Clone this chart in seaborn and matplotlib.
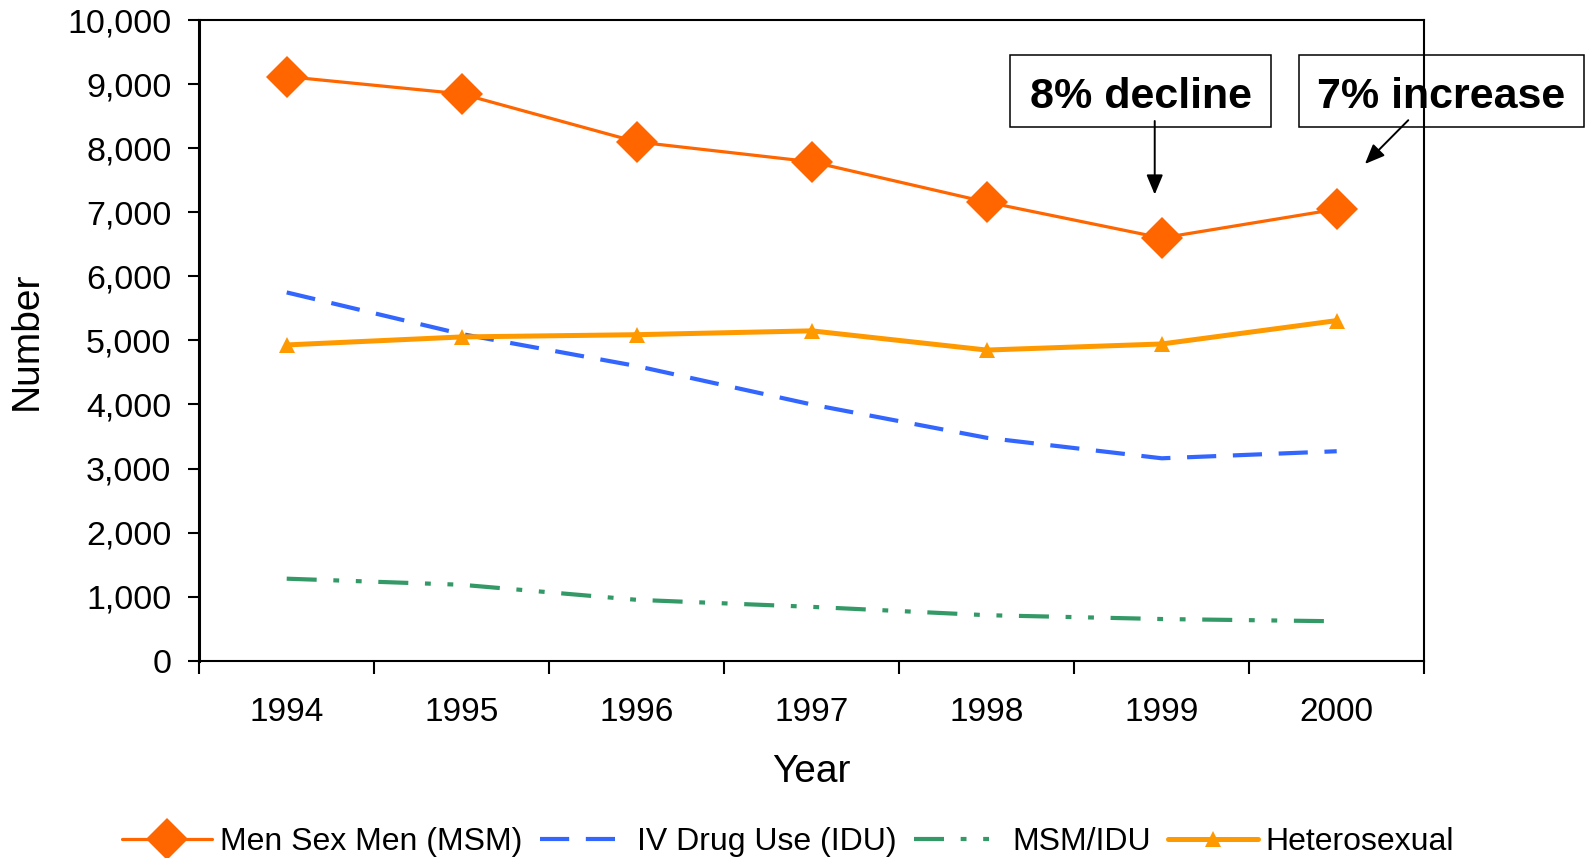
import matplotlib
matplotlib.use("Agg")
import matplotlib.pyplot as plt
import matplotlib.patches as mpatches
from matplotlib.ticker import FuncFormatter, FixedLocator
import pandas as pd
import seaborn as sns

# ---------------------------------------------------------------------------
# Données
# ---------------------------------------------------------------------------
years = [1994, 1995, 1996, 1997, 1998, 1999, 2000]
msm = [9120, 8850, 8100, 7790, 7160, 6600, 7050]
idu = [5750, 5100, 4600, 4000, 3480, 3160, 3270]
msm_idu = [1280, 1185, 950, 840, 710, 650, 615]
hetero = [4930, 5055, 5090, 5150, 4850, 4945, 5310]

series_names = ["Men Sex Men (MSM)", "IV Drug Use (IDU)", "MSM/IDU", "Heterosexual"]
y_ticks = list(range(0, 10001, 1000))

# ---------------------------------------------------------------------------
# Figure
# ---------------------------------------------------------------------------
sns.set_style("white")
plt.rcParams["font.family"] = ["Liberation Sans", "DejaVu Sans"]
plt.rcParams.update({"text.color": "black", "axes.labelcolor": "black",
                     "xtick.color": "black", "ytick.color": "black"})

fig = plt.figure(figsize=(15.86, 8.58), dpi=100)
ax = fig.add_axes([0.1256, 0.2300, 0.7724, 0.7464])

df = pd.DataFrame({"year": years, "msm": msm, "idu": idu,
                   "msm_idu": msm_idu, "hetero": hetero})

sns.lineplot(data=df, x="year", y="msm", ax=ax, color="#FF6600", lw=2.3,
             marker="D", markersize=21, markeredgewidth=0, label=series_names[0])
sns.lineplot(data=df, x="year", y="idu", ax=ax, color="#3366FF", lw=3,
             linestyle=(0, (7, 4)), label=series_names[1])
sns.lineplot(data=df, x="year", y="msm_idu", ax=ax, color="#339966", lw=3,
             linestyle=(0, (7.2, 4, 1.4, 4, 1.4, 4)), label=series_names[2])
sns.lineplot(data=df, x="year", y="hetero", ax=ax, color="#FF9900", lw=3.6,
             marker="^", markersize=11, markeredgewidth=0, label=series_names[3])

# axes
ax.set_xlim(years[0] - 0.5, years[-1] + 0.5)
ax.set_ylim(0, 10000)
ax.xaxis.set_major_locator(FixedLocator(years))
ax.xaxis.set_minor_locator(FixedLocator([y - 0.5 for y in years] + [years[-1] + 0.5]))
ax.set_yticks(y_ticks)
ax.yaxis.set_major_formatter(FuncFormatter(lambda v, p: f"{int(v):,}"))
ax.tick_params(axis="x", which="major", length=0, pad=26, labelsize=24)
ax.tick_params(axis="x", which="minor", length=9, width=1.5, direction="out",
               color="black", bottom=True)
ax.tick_params(axis="y", which="major", length=8, width=1.5, direction="out",
               color="black", left=True, pad=12, labelsize=24.5)

for side, s in ax.spines.items():
    s.set_color("black")
    s.set_linewidth(1.5)
ax.spines["left"].set_linewidth(2.2)

ax.set_xlabel("Year", fontsize=28, labelpad=19)
ax.set_ylabel("Number", fontsize=28, labelpad=16)
ax.grid(False)

# légende
handles, labels = ax.get_legend_handles_labels()
ax.get_legend().remove()
fig.legend(handles, labels, loc="center", bbox_to_anchor=(0.497, 0.019),
           ncol=4, frameon=False, fontsize=23, handlelength=2.8,
           handletextpad=0.25, columnspacing=0.55, borderpad=0)

# annotations
for x0, w, txt in [(0.6371, 0.1645, "8% decline"), (0.8189, 0.1798, "7% increase")]:
    fig.add_artist(mpatches.Rectangle((x0, 0.8514), w, 0.0849, transform=fig.transFigure,
                                      fill=False, edgecolor="black", lw=1.1))
    fig.text(x0 + w / 2, 0.8875, txt, ha="center", va="center",
             fontsize=31, fontweight="bold")

arrow_kw = dict(arrowstyle="-|>,head_length=1.2,head_width=0.5", color="black", lw=1.4)
ax.annotate("", xy=(1998.96, 7235), xytext=(1998.96, 8470),
            arrowprops=arrow_kw, annotation_clip=False)
ax.annotate("", xy=(2000.15, 7725), xytext=(2000.42, 8470),
            arrowprops=arrow_kw, annotation_clip=False)

plt.savefig("out.png", dpi=100)
plt.close()
